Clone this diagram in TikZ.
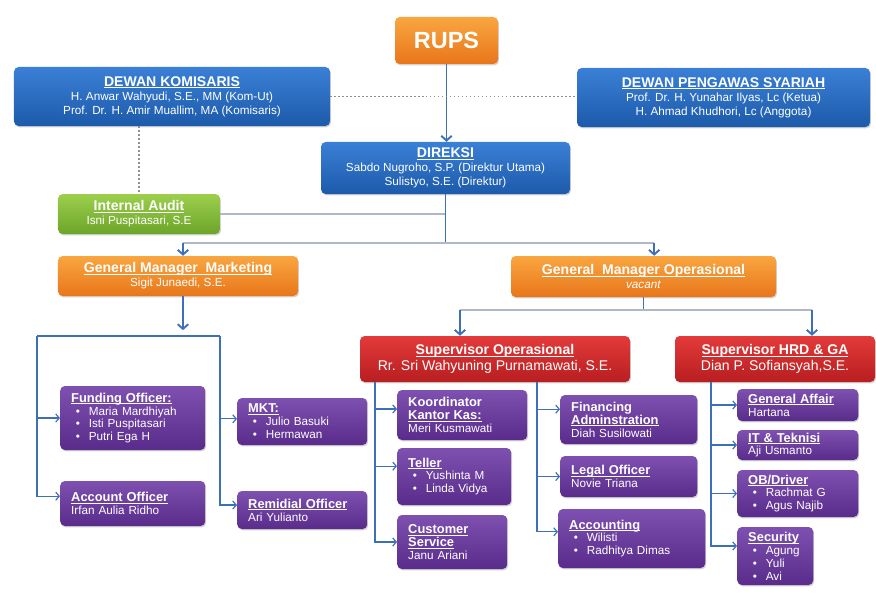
\documentclass[tikz,border=0pt]{standalone}
\usepackage{fontspec}
\setmainfont{Liberation Sans}
\usetikzlibrary{arrows.meta,shadows}

\definecolor{bluetop}{HTML}{3A80D6}
\definecolor{bluebot}{HTML}{1D5AAA}
\definecolor{orgtop}{HTML}{F9A640}
\definecolor{orgbot}{HTML}{E8761A}
\definecolor{grntop}{HTML}{9CCF4C}
\definecolor{grnbot}{HTML}{6CA52A}
\definecolor{redtop}{HTML}{E33A3A}
\definecolor{redbot}{HTML}{B81E20}
\definecolor{purtop}{HTML}{7E50B0}
\definecolor{purbot}{HTML}{592C8C}
\definecolor{conblue}{HTML}{3C70B8}
\definecolor{congray}{HTML}{AEB8C6}
\definecolor{dotgray}{HTML}{8A8F98}

\newcommand\ul[1]{\leavevmode\setbox0\hbox{#1}\rlap{\rule[-1.7pt]{\wd0}{0.7pt}}\box0}
\newcommand\hd[1]{{\fontsize{12}{14}\selectfont\bfseries\ul{#1}}}
\newcommand\phd[1]{{\fontsize{11}{13}\selectfont\bfseries\ul{#1}}}
\newcommand\itm[1]{\hspace*{4pt}\makebox[11pt][l]{\textbullet}#1}

\tikzset{
  orgunit/.style={rounded corners=4pt, text=white, align=center, inner sep=2pt,
    drop shadow={opacity=0.35, shadow xshift=0.8pt, shadow yshift=-1.2pt},
    font=\fontsize{10}{12}\selectfont},
  bluebox/.style={orgunit, top color=bluetop, bottom color=bluebot},
  orangebox/.style={orgunit, top color=orgtop, bottom color=orgbot},
  greenbox/.style={orgunit, top color=grntop, bottom color=grnbot},
  redbox/.style={orgunit, top color=redtop, bottom color=redbot, font=\fontsize{12}{14}\selectfont},
  purplebox/.style={orgunit, top color=purtop, bottom color=purbot, align=left,
    anchor=west, inner xsep=0.33cm, font=\fontsize{10}{11}\selectfont},
  arr/.style={conblue, line width=1.6pt, -{Straight Barb[length=4pt,width=9pt]}},
  vln/.style={conblue, line width=1.6pt},
  hln/.style={congray, line width=1.3pt},
  sub/.style={conblue, line width=1pt, -{Straight Barb[length=3pt,width=7pt]}},
  dots/.style={dotgray, line width=1.4pt, dotted}
}

\begin{document}
\begin{tikzpicture}[x=0.03cm, y=-0.03cm]
\useasboundingbox (0,0) rectangle (876,593);

\node[orangebox, minimum width=3.09cm, minimum height=1.41cm, font=\fontsize{20}{24}\selectfont\bfseries] (rups) at (446.5,40.5) {RUPS};
\node[bluebox, minimum width=9.48cm, minimum height=1.77cm] (komisaris) at (172,96.5) {\hd{DEWAN KOMISARIS}\\H. Anwar Wahyudi, S.E., MM (Kom-Ut)\\Prof. Dr. H. Amir Muallim, MA (Komisaris)};
\node[bluebox, minimum width=8.79cm, minimum height=1.77cm] (syariah) at (723.5,97.5) {\hd{DEWAN PENGAWAS SYARIAH}\\Prof. Dr. H. Yunahar Ilyas, Lc (Ketua)\\H. Ahmad Khudhori, Lc (Anggota)};
\node[bluebox, minimum width=7.47cm, minimum height=1.56cm] (direksi) at (445.5,168) {\hd{DIREKSI}\\Sabdo Nugroho, S.P. (Direktur Utama)\\Sulistyo, S.E. (Direktur)};
\node[greenbox, minimum width=4.86cm, minimum height=1.2cm] (audit) at (139,214) {\hd{Internal Audit}\\Isni Puspitasari, S.E};

\node[orangebox, minimum width=7.2cm, minimum height=1.2cm] (gmmkt) at (178,276) {\hd{General Manager\ \ Marketing}\\Sigit Junaedi, S.E.};
\node[orangebox, minimum width=7.95cm, minimum height=1.23cm] (gmops) at (643.5,276.5) {\hd{General\ \ Manager Operasional}\\\textit{vacant}};

\node[redbox, minimum width=8.1cm, minimum height=1.38cm] (spvops) at (495,359) {\hd{Supervisor Operasional}\\Rr. Sri Wahyuning Purnamawati, S.E.};
\node[redbox, minimum width=6cm, minimum height=1.38cm] (spvhrd) at (775,359) {\hd{Supervisor HRD \& GA}\\Dian P. Sofiansyah,S.E.};

% marketing
\node[purplebox, text width=3.69cm, minimum height=1.92cm] (funding) at (60,418) {\phd{Funding Officer:}\\\itm{Maria Mardhiyah}\\\itm{Isti Puspitasari}\\\itm{Putri Ega H}};
\node[purplebox, text width=3.69cm, minimum height=1.35cm] (account) at (60,503.5) {\phd{Account Officer}\\Irfan Aulia Ridho};
\node[purplebox, text width=3.24cm, minimum height=1.41cm] (mkt) at (237,421.5) {\phd{MKT:}\\\itm{Julio Basuki}\\\itm{Hermawan}};
\node[purplebox, text width=3.24cm, minimum height=1.14cm] (remidial) at (237,510) {\phd{Remidial Officer}\\Ari Yulianto};

% operasional
\node[purplebox, text width=3.24cm, minimum height=1.5cm] (kaskoord) at (397,415) {{\fontsize{11}{13}\selectfont\bfseries Koordinator}\\\phd{Kantor Kas:}\\Meri Kusmawati};
\node[purplebox, text width=2.76cm, minimum height=1.71cm] (teller) at (397,476.5) {\phd{Teller}\\\itm{Yushinta M}\\\itm{Linda Vidya}};
\node[purplebox, text width=2.64cm, minimum height=1.62cm] (cs) at (397,542) {\phd{Customer}\\\phd{Service}\\Janu Ariani};
\node[purplebox, text width=3.45cm, minimum height=1.47cm] (financing) at (560,419.5) {{\fontsize{11}{13}\selectfont\bfseries Financing}\\\phd{Adminstration}\\Diah Susilowati};
\node[purplebox, text width=3.45cm, minimum height=1.23cm] (legal) at (560,476.5) {\phd{Legal Officer}\\Novie Triana};
\node[purplebox, text width=3.75cm, minimum height=1.77cm] (accounting) at (558,538.5) {\phd{Accounting}\\\itm{Wilisti}\\\itm{Radhitya Dimas}};

% hrd & ga
\node[purplebox, text width=2.97cm, minimum height=0.96cm] (affair) at (737,405) {\phd{General Affair}\\Hartana};
\node[purplebox, text width=2.97cm, minimum height=0.9cm] (it) at (737,445) {\phd{IT \& Teknisi}\\Aji Usmanto};
\node[purplebox, text width=2.97cm, minimum height=1.41cm] (driver) at (737,493.5) {\phd{OB/Driver}\\\itm{Rachmat G}\\\itm{Agus Najib}};
\node[purplebox, text width=1.62cm, minimum height=1.74cm] (security) at (737,556) {\phd{Security}\\\itm{Agung}\\\itm{Yuli}\\\itm{Avi}};

\draw[arr] (rups.south) -- (rups.south |- direksi.north);
\draw[dots] (komisaris.east) -- (komisaris.east -| syariah.west);
\draw[dots] (komisaris.south -| audit.north) -- (audit.north);
\draw[hln] (audit.east) -- (audit.east -| direksi.south);

\coordinate (split1) at (445.5,243);
\draw[vln] (direksi.south) -- (split1);
\draw[hln] ([xshift=0.15cm]gmmkt.north |- split1) -- ([xshift=0.32cm]gmops.north |- split1);
\draw[arr] ([xshift=0.15cm]gmmkt.north |- split1) -- ([xshift=0.15cm]gmmkt.north);
\draw[arr] ([xshift=0.32cm]gmops.north |- split1) -- ([xshift=0.32cm]gmops.north);

\coordinate (mkleft) at (37,336);
\coordinate (mkright) at (220,336);
\draw[arr, shorten >=5pt] ([xshift=0.15cm]gmmkt.south) -- ([xshift=0.15cm]gmmkt.south |- mkleft);
\draw[conblue, line width=1pt] (mkleft) -- (mkright);
\draw[sub] (mkleft) |- (funding.west);
\draw[sub] (mkleft) |- ([yshift=0.22cm]account.west);
\draw[sub] (mkright) |- ([yshift=0.08cm]mkt.west);
\draw[sub] (mkright) |- ([yshift=0.15cm]remidial.west);

\coordinate (split2) at (643.5,310);
\draw[vln] (gmops.south) -- (split2);
\draw[hln] ([xshift=-1.05cm]spvops.north |- split2) -- ([xshift=1.11cm]spvhrd.north |- split2);
\draw[arr] ([xshift=-1.05cm]spvops.north |- split2) -- ([xshift=-1.05cm]spvops.north);
\draw[arr] ([xshift=1.11cm]spvhrd.north |- split2) -- ([xshift=1.11cm]spvhrd.north);

\coordinate (opsl) at (375,382);
\coordinate (opsr) at (537,382);
\coordinate (hrdl) at (711,382);
\draw[sub] (opsl) |- ([yshift=0.18cm]kaskoord.west);
\draw[sub] (opsl) |- ([yshift=0.31cm]teller.west);
\draw[sub] (opsl) |- (cs.west);
\draw[sub] (opsr) |- ([yshift=0.31cm]financing.west);
\draw[sub] (opsr) |- (legal.west);
\draw[sub] (opsr) |- ([yshift=0.2cm]accounting.west);
\draw[sub] (hrdl) |- (affair.west);
\draw[sub] (hrdl) |- (it.west);
\draw[sub] (hrdl) |- (driver.west);
\draw[sub] (hrdl) |- ([yshift=0.3cm]security.west);
\end{tikzpicture}
\end{document}
